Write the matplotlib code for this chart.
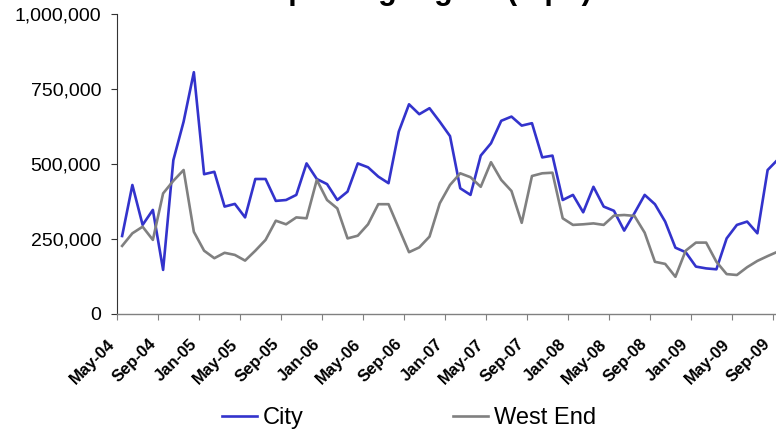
import matplotlib
matplotlib.use("Agg")
import matplotlib.pyplot as plt
from matplotlib.ticker import StrMethodFormatter
from matplotlib.lines import Line2D
from matplotlib.transforms import ScaledTranslation

# monthly take-up, May-04 .. Sep-09
city = [
    260000, 430000, 297000, 347000, 147000, 513000, 641000, 806000,
    466000, 474000, 358000, 367000, 322000, 450000, 450000, 377000,
    380000, 397000, 502000, 450000, 433000, 380000, 408000, 502000,
    489000, 458000, 436000, 608000, 699000, 666000, 686000, 641000,
    593000, 419000, 397000, 528000, 569000, 644000, 658000, 628000,
    636000, 522000, 528000, 380000, 397000, 339000, 424000, 358000,
    344000, 278000, 336000, 397000, 366000, 308000, 221000, 206000,
    158000, 152000, 149000, 252000, 297000, 308000, 269000, 480000,
    515000,
]
west_end = [
    227000, 269000, 291000, 247000, 402000, 444000, 480000, 274000,
    211000, 186000, 204000, 197000, 178000, 211000, 247000, 311000,
    299000, 322000, 319000, 447000, 380000, 352000, 252000, 261000,
    299000, 366000, 366000, 286000, 206000, 222000, 258000, 369000,
    430000, 469000, 456000, 424000, 506000, 447000, 410000, 304000,
    460000, 469000, 471000, 319000, 297000, 299000, 302000, 297000,
    328000, 330000, 327000, 271000, 174000, 167000, 124000, 211000,
    238000, 238000, 174000, 133000, 130000, 156000, 177000, 193000,
    208000,
]
tick_labels = [
    "May-04", "Sep-04", "Jan-05", "May-05", "Sep-05", "Jan-06", "May-06",
    "Sep-06", "Jan-07", "May-07", "Sep-07", "Jan-08", "May-08", "Sep-08",
    "Jan-09", "May-09", "Sep-09",
]

plt.rcParams["font.family"] = ["Liberation Sans", "DejaVu Sans"]

W, H = 776, 433
fig = plt.figure(figsize=(W / 100, H / 100), dpi=100)
ax = fig.add_axes([117 / W, (H - 314) / H, 666 / W, 300 / H])

x = list(range(len(city)))
ax.plot(x, city, color="#3333cc", lw=1.9, label="City")
ax.plot(x, west_end, color="#808080", lw=1.9, label="West End")

ax.set_xlim(-0.5, len(city) - 0.5)
ax.set_ylim(0, 1000000)
ax.set_yticks([0, 250000, 500000, 750000, 1000000])
ax.yaxis.set_major_formatter(StrMethodFormatter("{x:,.0f}"))
ax.tick_params(axis="y", labelsize=14, length=4, width=0.8, color="#333333", pad=7.5)

ax.set_xticks([-0.5 + 4 * k for k in range(len(tick_labels))])
ax.set_xticklabels(tick_labels, rotation=45, ha="right", va="top",
                   rotation_mode="anchor", fontweight="bold", fontsize=12)
ax.tick_params(axis="x", length=4, width=0.8, color="#808080", pad=12)
shift = ScaledTranslation(-10 / 100, 0, fig.dpi_scale_trans)
for lbl in ax.get_xticklabels():
    lbl.set_transform(lbl.get_transform() + shift)

for side in ("top", "right"):
    ax.spines[side].set_visible(False)
ax.spines["left"].set_color("#333333")
ax.spines["bottom"].set_color("#808080")
ax.spines["left"].set_linewidth(0.8)
ax.spines["bottom"].set_linewidth(1.0)

# title sits mostly above the top edge
fig.text(192 / W, 1.0 + 1 / H, "Take-up along region (sq ft)",
         ha="left", va="baseline", fontsize=22, fontweight="bold")

handles = [Line2D([], [], color="#3333cc", lw=1.9),
           Line2D([], [], color="#808080", lw=1.9)]
fig.legend(handles, ["City", "West End"], loc="center",
           bbox_to_anchor=(409 / W, 1 - 418 / H), ncol=2, frameon=False,
           fontsize=17, handlelength=1.5, handletextpad=0.25, columnspacing=6.3,
           borderpad=0)

fig.savefig("out.png", dpi=100)
